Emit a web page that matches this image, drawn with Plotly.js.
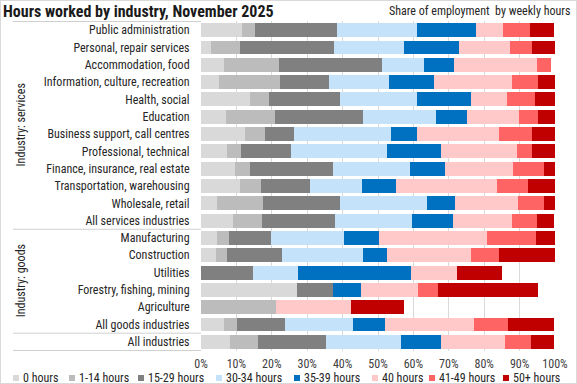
<!DOCTYPE html>
<html>
<head>
<meta charset="utf-8">
<script src="https://cdn.plot.ly/plotly-3.0.1.min.js"></script>
<style>
  html, body { margin: 0; padding: 0; background: #fff; }
  #wrap { position: relative; width: 577px; height: 384px; }
  #chart { width: 577px; height: 384px; }
  #frame { position: absolute; left: 0; top: 0; width: 577px; height: 384px; box-sizing: border-box; border: 1px solid #d9d9d9; pointer-events: none; }
</style>
</head>
<body>
<div id="wrap"><div id="chart"></div><div id="frame"></div></div>
<script>
const categories = [
  "Public administration", "Personal, repair services", "Accommodation, food",
  "Information, culture, recreation", "Health, social", "Education",
  "Business support, call centres", "Professional, technical",
  "Finance, insurance, real estate", "Transportation, warehousing",
  "Wholesale, retail", "All services industries",
  "Manufacturing", "Construction", "Utilities", "Forestry, fishing, mining",
  "Agriculture", "All goods industries", "All industries"
];
const seriesNames = ["0 hours", "1-14 hours", "15-29 hours", "30-34 hours", "35-39 hours", "40 hours", "41-49 hours", "50+ hours"];
const hours0     = [11.6, 2.9, 6.6, 5.2, 13.7, 7.2, 12.5, 7.4, 9.7, 11.1, 4.6, 8.9, 4.6, 4.3, null, 27.2, null, 6.6, 8.3];
const hours1_14  = [3.7, 8.2, 15.3, 17.2, 5.4, 13.6, 5.7, 4.0, 4.2, 5.9, 13.0, 8.4, 3.4, 3.1, null, null, 21.3, 3.7, 7.9];
const hours15_29 = [23.1, 26.6, 29.1, 13.8, 20.1, 24.9, 8.2, 14.1, 23.5, 13.9, 21.8, 20.6, 11.9, 15.6, 14.8, 10.2, null, 13.5, 19.2];
const hours30_34 = [22.6, 19.7, 12.1, 16.9, 21.8, 20.6, 27.4, 26.9, 21.5, 14.7, 24.5, 21.8, 20.6, 22.9, 12.7, null, null, 19.2, 21.2];
const hours35_39 = [16.8, 15.6, 8.5, 12.7, 15.3, 8.8, 7.1, 15.5, 10.1, 9.6, 7.9, 11.6, 9.9, 6.5, 31.9, 7.9, null, 9.0, 11.3];
const hours40    = [7.5, 14.4, 23.4, 22.0, 10.2, 14.7, 23.2, 21.5, 19.2, 28.5, 17.8, 16.6, 30.5, 24.0, 13.0, 16.1, 21.2, 25.2, 18.1];
const hours41_49 = [7.7, 6.2, 4.0, 7.3, 7.9, 5.4, 9.3, 4.2, 8.8, 8.8, 7.4, 7.1, 13.6, 7.9, null, 5.6, null, 9.6, 7.3];
const hours50p   = [6.8, 6.5, null, 4.8, 5.9, 5.1, 6.8, 6.5, 3.1, 7.6, 3.1, 4.8, 5.6, 15.8, 12.6, 28.2, 14.8, 13.0, 6.5];
const xTickVals = [0, 10, 20, 30, 40, 50, 60, 70, 80, 90, 100];
const xTickText = ["0%", "10%", "20%", "30%", "40%", "50%", "60%", "70%", "80%", "90%", "100%"];
const groupLabels = ["Industry: services", "Industry: goods"];

const allValues = [hours0, hours1_14, hours15_29, hours30_34, hours35_39, hours40, hours41_49, hours50p];
const colors = ["#d9d9d9", "#bcbcbc", "#808080", "#c4e3fb", "#0070c0", "#ffc9c9", "#ff6464", "#c00000"];

const FONT = "'Roboto Condensed', 'Noto Sans Condensed', 'Liberation Sans Narrow', 'DejaVu Sans Condensed', 'Liberation Sans', sans-serif";
const W = 577, H = 384, L = 201, R = 22, T = 21, B = 33;
const PW = W - L - R, PH = H - T - B;
const px = x => (x - L) / PW;
const py = y => (H - B - y) / PH;

const traces = allValues.map((vals, i) => ({
  type: "bar", orientation: "h", name: seriesNames[i],
  y: categories, x: vals,
  marker: { color: colors[i], line: { width: 0 } },
  hoverinfo: "skip", showlegend: false
}));

const legTextX = [21, 77, 146, 224, 302, 380, 437, 511];
const legY = 378;
const shapes = [];
const annotations = [];
seriesNames.forEach((n, i) => {
  shapes.push({ type: "rect", xref: "paper", yref: "paper",
    x0: px(legTextX[i] - 8), x1: px(legTextX[i] - 2), y0: py(legY + 3), y1: py(legY - 3),
    fillcolor: colors[i], line: { width: 0 } });
  annotations.push({ xref: "paper", yref: "paper", x: px(legTextX[i]), y: py(legY),
    xanchor: "left", yanchor: "middle", text: n, showarrow: false,
    font: { family: FONT, size: 12, color: "#262626" } });
});
[-0.5, 11.5, 17.5, 18.5].forEach(v => {
  shapes.push({ type: "line", xref: "paper", yref: "y", x0: px(13), x1: 0, y0: v, y1: v,
    line: { color: "#d0d0d0", width: 1 } });
});
annotations.push({ xref: "paper", yref: "y", x: px(21), y: 5.5, text: groupLabels[0], textangle: -90,
  showarrow: false, xanchor: "center", yanchor: "middle", font: { family: FONT, size: 12, color: "#262626" } });
annotations.push({ xref: "paper", yref: "y", x: px(21), y: 14.5, text: groupLabels[1], textangle: -90,
  showarrow: false, xanchor: "center", yanchor: "middle", font: { family: FONT, size: 12, color: "#262626" } });
annotations.push({ xref: "paper", yref: "paper", x: px(572), y: py(11), xanchor: "right", yanchor: "middle",
  text: "Share of employment  by weekly hours", showarrow: false,
  font: { family: FONT, size: 12, color: "#262626" } });

const layout = {
  width: W, height: H,
  margin: { l: L, r: R, t: T, b: B, pad: 0 },
  paper_bgcolor: "#ffffff", plot_bgcolor: "#ffffff",
  barmode: "stack", bargap: 0.2,
  showlegend: false,
  title: { text: "<b>Hours worked by industry, November 2025</b>", x: 3 / W, xanchor: "left",
    y: 1 - 11.5 / H, yanchor: "middle", xref: "container", yref: "container",
    font: { family: FONT, size: 16, color: "#1a1a1a" } },
  xaxis: { range: [0, 100], tickvals: xTickVals, ticktext: xTickText, showgrid: true,
    gridcolor: "#d9d9d9", gridwidth: 1, zeroline: false, showline: false, ticks: "",
    ticklabelstandoff: 4,
    tickfont: { family: FONT, size: 12, color: "#404040" }, fixedrange: true },
  yaxis: { type: "category", autorange: "reversed", showgrid: false, zeroline: false, showline: false,
    ticks: "outside", ticklen: 8, tickcolor: "rgba(0,0,0,0)",
    tickfont: { family: FONT, size: 12, color: "#262626" }, fixedrange: true },
  shapes: shapes, annotations: annotations
};

Plotly.newPlot("chart", traces, layout, { staticPlot: true, displayModeBar: false });
</script>
</body>
</html>
